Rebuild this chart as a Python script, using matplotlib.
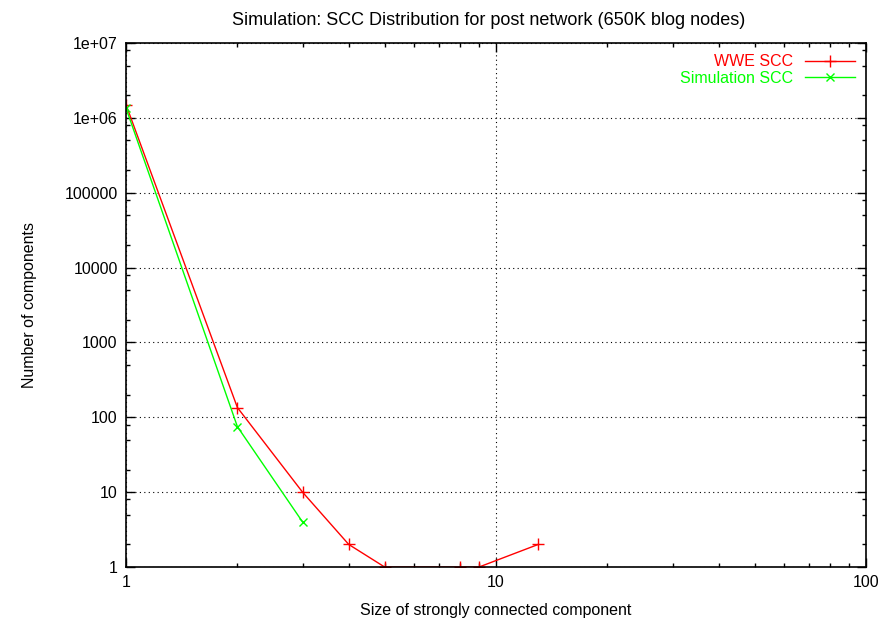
import matplotlib
matplotlib.use('Agg')
import matplotlib.pyplot as plt
from matplotlib.ticker import FixedLocator, FixedFormatter, LogLocator, NullFormatter

plt.rcParams['font.family'] = ['Liberation Sans', 'DejaVu Sans']
plt.rcParams['font.size'] = 11.5

# data
wwe_size = [1, 2, 3, 4, 5, 8, 9, 13]
wwe_count = [1500000, 135, 10, 2, 1, 1, 1, 2]
sim_size = [1, 2, 3]
sim_count = [1350000, 75, 4]

ytick_vals = [1, 10, 100, 1000, 10000, 100000, 1e6, 1e7]
ytick_labels = ['1', '10', '100', '1000', '10000', '100000', '1e+06', '1e+07']
xtick_vals = [1, 10, 100]
xtick_labels = ['1', '10', '100']

fig = plt.figure(figsize=(8.95, 6.24), dpi=100)
ax = fig.add_axes([126/895, 1 - 567/624, 740/895, 524/624])

ax.plot(wwe_size, wwe_count, c='#ff0000', lw=1, marker='+', ms=8, mew=1, label='WWE SCC')
ax.plot(sim_size, sim_count, c='#00ff00', lw=1, marker='x', ms=6, mew=1, label='Simulation SCC')

ax.set_xscale('log')
ax.set_yscale('log')
ax.set_xlim(1, 100)
ax.set_ylim(1, 1e7)

ax.yaxis.set_major_locator(FixedLocator(ytick_vals))
ax.yaxis.set_major_formatter(FixedFormatter(ytick_labels))
ax.xaxis.set_major_locator(FixedLocator(xtick_vals))
ax.xaxis.set_major_formatter(FixedFormatter(xtick_labels))
ax.xaxis.set_minor_locator(LogLocator(base=10, subs=range(2, 10)))
ax.yaxis.set_minor_locator(LogLocator(base=10, subs=[2, 5, 8]))
ax.xaxis.set_minor_formatter(NullFormatter())
ax.yaxis.set_minor_formatter(NullFormatter())

ax.tick_params(which='both', direction='in', top=True, right=True, width=1)
ax.tick_params(which='major', length=6.5, pad=6)
ax.tick_params(which='minor', length=3)
for s in ax.spines.values():
    s.set_linewidth(1.2)

ax.grid(True, which='major', color='black', linestyle=(0, (1, 3)), lw=0.8)

ax.set_xlabel('Size of strongly connected component', labelpad=9)
ax.set_ylabel('Number of components', labelpad=20)
ax.set_title('Simulation: SCC Distribution for post network (650K blog nodes)',
             fontsize=13, pad=13, x=0.49)

ax.legend(loc='upper right', frameon=False, markerfirst=False, labelcolor='linecolor',
          handlelength=3.1, borderaxespad=0.5, handletextpad=0.75, labelspacing=0.1,
          borderpad=0.2)

fig.savefig('out.png', dpi=100)
